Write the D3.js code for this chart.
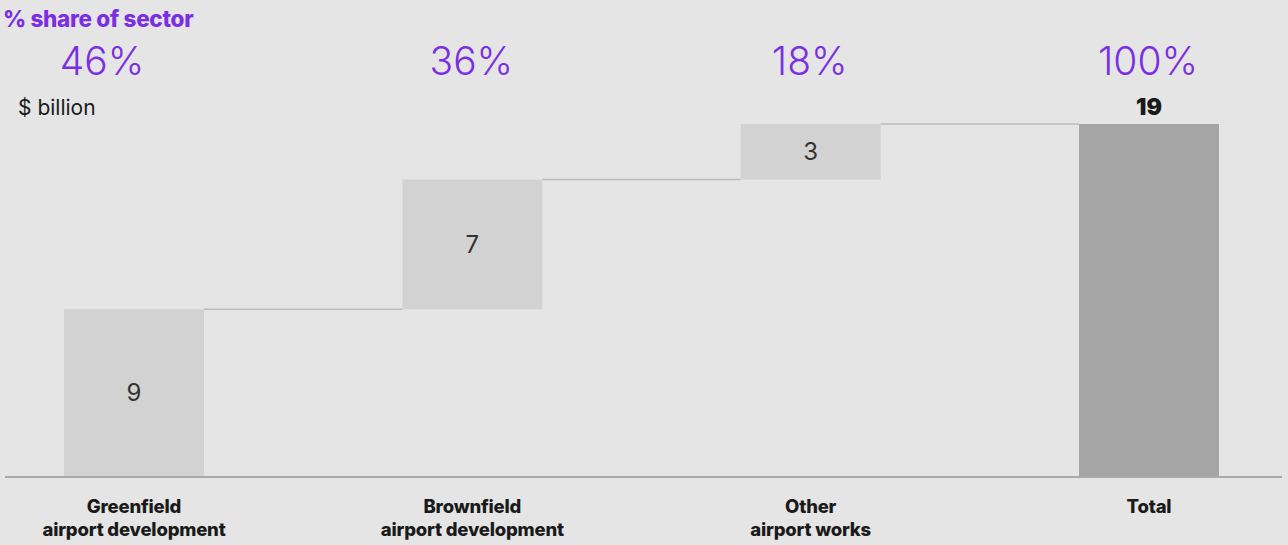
<!DOCTYPE html>
<html>
<head>
<meta charset="utf-8">
<script src="https://cdn.jsdelivr.net/npm/d3@7"></script>
<style>
  html, body { margin: 0; padding: 0; background: #e5e5e5; }
  svg { display: block; font-family: Inter, "Noto Sans", sans-serif; }
</style>
</head>
<body>
<svg id="chart" width="1288" height="545"></svg>
<script>
// Airport works, $ billion
const categories = [["Greenfield", "airport development"], ["Brownfield", "airport development"], ["Other", "airport works"], ["Total"]];
const values = [9, 7, 3];
const total = 19;
const shares = ["46%", "36%", "18%", "100%"];

const baseY = 476;
const topY = 124;
const purple = "#7b2fe2";

const svg = d3.select("#chart");

const x = d3.scaleBand()
  .domain(d3.range(categories.length))
  .range([6.5, 1276.5])
  .paddingInner(0.5862)
  .paddingOuter(0.17);

const y = d3.scaleLinear().domain([0, total]).range([baseY, topY]);

// running totals for the waterfall steps
let run = 0;
const steps = values.map((v, i) => {
  const s = { i, start: run, end: run + v, v };
  run += v;
  return s;
});

// connectors between consecutive steps
const connectors = steps.map(s => ({ from: s.i, to: s.i + 1, level: s.end }));
svg.append("g").selectAll("line").data(connectors).join("line")
  .attr("x1", d => x(d.from) + x.bandwidth())
  .attr("x2", d => x(d.to))
  .attr("y1", d => y(d.level))
  .attr("y2", d => y(d.level))
  .attr("stroke", "#bcbcbc")
  .attr("stroke-width", 1.5);

// floating step bars
svg.append("g").selectAll("rect").data(steps).join("rect")
  .attr("x", d => x(d.i))
  .attr("width", x.bandwidth())
  .attr("y", d => y(d.end))
  .attr("height", d => y(d.start) - y(d.end))
  .attr("fill", "#d2d2d2");

// total bar
svg.append("rect")
  .attr("x", x(3))
  .attr("width", x.bandwidth())
  .attr("y", y(total))
  .attr("height", y(0) - y(total))
  .attr("fill", "#a5a5a5");

// step value labels
svg.append("g").selectAll("text").data(steps).join("text")
  .attr("x", d => x(d.i) + x.bandwidth() / 2)
  .attr("y", d => (y(d.start) + y(d.end)) / 2)
  .attr("dy", "0.36em")
  .attr("text-anchor", "middle")
  .attr("font-size", 24)
  .attr("fill", "#333")
  .text(d => d.v);

// total label
svg.append("text")
  .attr("x", x(3) + x.bandwidth() / 2)
  .attr("y", y(total) - 9)
  .attr("text-anchor", "middle")
  .attr("font-size", 23)
  .attr("font-weight", 900)
  .attr("fill", "#1a1a1a")
  .text(total);

// baseline
svg.append("line")
  .attr("x1", 5).attr("x2", 1282)
  .attr("y1", baseY + 1).attr("y2", baseY + 1)
  .attr("stroke", "#a9a9a9")
  .attr("stroke-width", 2);

// share percentages (the first sits left of its column, clear of the heading)
svg.append("g").selectAll("text").data(shares).join("text")
  .attr("x", (d, i) => x(i) + x.bandwidth() / 2 - (i === 0 ? 32 : 1))
  .attr("y", 75)
  .attr("text-anchor", "middle")
  .attr("font-size", 39)
  .attr("font-weight", 300)
  .attr("fill", purple)
  .text(d => d);

// headings
svg.append("text")
  .attr("x", 3).attr("y", 27)
  .attr("font-size", 22.5)
  .attr("font-weight", 800)
  .attr("letter-spacing", -0.3)
  .attr("fill", purple)
  .text("% share of sector");

svg.append("text")
  .attr("x", 18).attr("y", 115)
  .attr("font-size", 21)
  .attr("fill", "#1a1a1a")
  .text("$ billion");

// category labels
const cat = svg.append("g").selectAll("text").data(categories).join("text")
  .attr("x", (d, i) => x(i) + x.bandwidth() / 2)
  .attr("y", 513)
  .attr("text-anchor", "middle")
  .attr("font-size", 18.5)
  .attr("font-weight", 800)
  .attr("letter-spacing", -0.2)
  .attr("fill", "#1a1a1a");
cat.selectAll("tspan").data(d => d).join("tspan")
  .attr("x", function () { return d3.select(this.parentNode).attr("x"); })
  .attr("dy", (d, i) => i === 0 ? 0 : 23)
  .text(d => d);
</script>
</body>
</html>
